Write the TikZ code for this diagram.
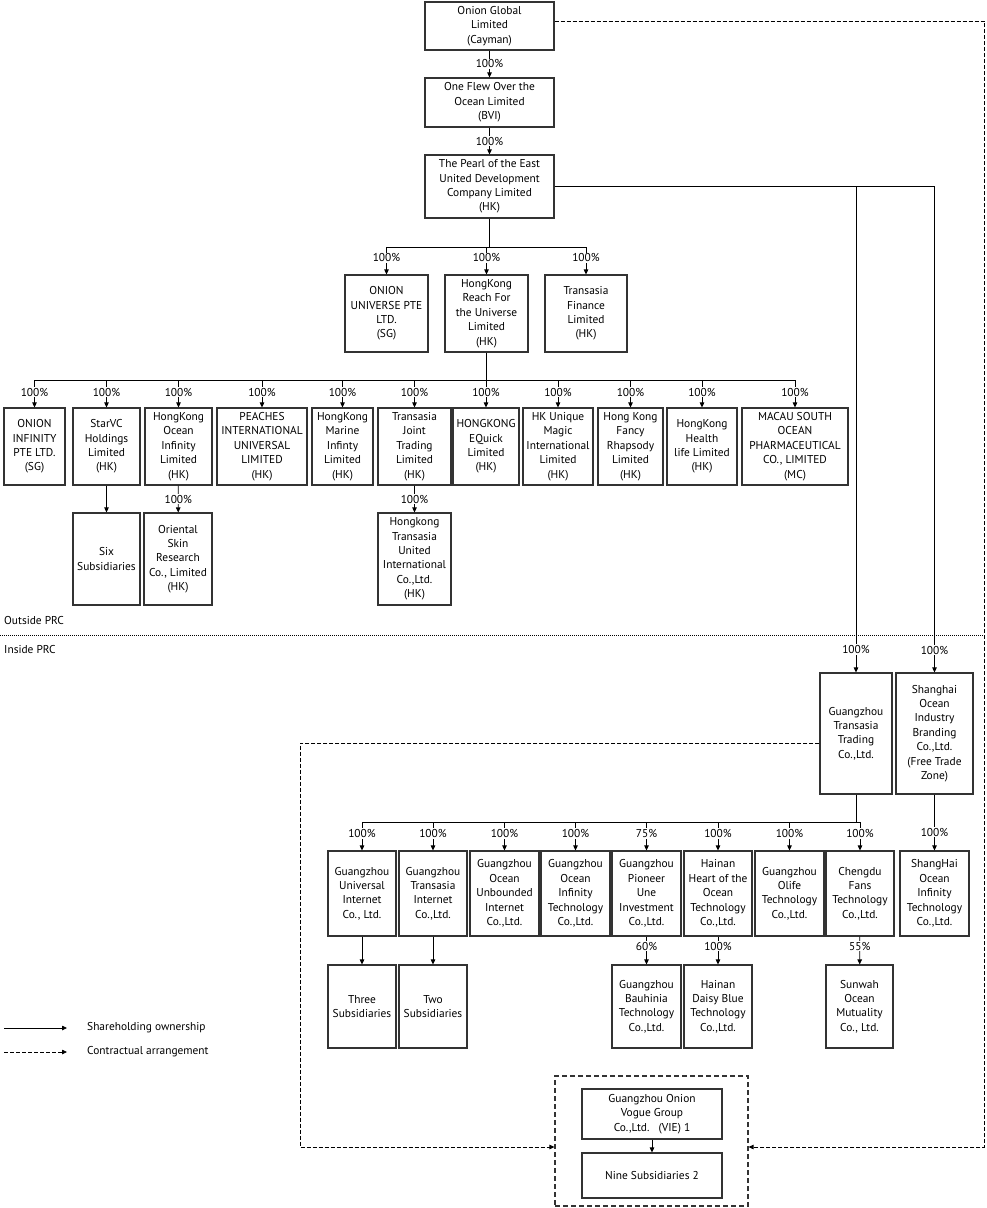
\documentclass[tikz,border=0pt]{standalone}
\usepackage{fontspec}
\setmainfont{PT Sans}
\usepackage{tikz}
\usetikzlibrary{arrows.meta, positioning}

\begin{document}
\begin{tikzpicture}[x=1pt, y=-1pt, >={Triangle[length=5pt,width=4.5pt]},
    font=\fontsize{11.4}{14.4}\selectfont,
    ent/.style={draw=black!80, line width=1.1pt, align=center, inner sep=1pt},
    pct/.style={fill=white, inner sep=1pt},
    own/.style={->, line width=0.8pt},
    ctr/.style={->, line width=0.8pt, dash pattern=on 4pt off 2pt}]
    \useasboundingbox (0,0) rectangle (986,1208);
    % Offshore holding chain
    \node[ent, minimum width=129pt, minimum height=48pt] (onion) at (489.5,26) {Onion Global\\Limited\\(Cayman)};
    \node[ent, minimum width=129pt, minimum height=49pt] (flew) at (489.5,102.5) {One Flew Over the\\Ocean Limited\\(BVI)};
    \node[ent, minimum width=129pt, minimum height=63pt] (pearl) at (489.5,186.5) {The Pearl of the East\\United Development\\Company Limited\\(HK)};
    \draw[own] (onion) -- node[pct]{100\%} (flew);
    \draw[own] (flew) -- node[pct]{100\%} (pearl);
    % Second level
    \node[ent, minimum width=83pt, minimum height=77pt] (ouni) at (386.5,313.5) {ONION\\UNIVERSE PTE\\LTD.\\(SG)};
    \node[ent, minimum width=83pt, minimum height=77pt] (reach) at (486.5,313.5) {HongKong\\Reach For\\the Universe\\Limited\\(HK)};
    \node[ent, minimum width=82pt, minimum height=77pt] (tfin) at (586,313.5) {Transasia\\Finance\\Limited\\(HK)};
    \coordinate (b2) at (0,247);
    \draw[line width=0.8pt] (pearl.south) -- (pearl.south |- b2);
    \draw[line width=0.8pt] (ouni.north |- b2) -- (tfin.north |- b2);
    \foreach \c in {ouni,reach,tfin}
      \draw[own] (\c.north |- b2) -- node[pct, pos=0.4]{100\%} (\c.north);
    % Third level
    \node[ent, minimum width=61pt, minimum height=77pt] (oinf) at (34.5,446.5) {ONION\\INFINITY\\PTE LTD.\\(SG)};
    \node[ent, minimum width=67pt, minimum height=77pt] (starvc) at (106.5,446.5) {StarVC\\Holdings\\Limited\\(HK)};
    \node[ent, minimum width=67pt, minimum height=77pt] (hkoi) at (178.5,446.5) {HongKong\\Ocean\\Infinity\\Limited\\(HK)};
    \node[ent, minimum width=90pt, minimum height=77pt] (peach) at (262,446.5) {PEACHES\\INTERNATIONAL\\UNIVERSAL\\LIMITED\\(HK)};
    \node[ent, minimum width=61pt, minimum height=77pt] (marine) at (342.5,446.5) {HongKong\\Marine\\Infinty\\Limited\\(HK)};
    \node[ent, minimum width=73pt, minimum height=77pt] (tjt) at (414.5,446.5) {Transasia\\Joint\\Trading\\Limited\\(HK)};
    \node[ent, minimum width=66pt, minimum height=77pt] (equick) at (486,446.5) {HONGKONG\\EQuick\\Limited\\(HK)};
    \node[ent, minimum width=70pt, minimum height=77pt] (unique) at (558,446.5) {HK Unique\\Magic\\International\\Limited\\(HK)};
    \node[ent, minimum width=65pt, minimum height=77pt] (fancy) at (630.5,446.5) {Hong Kong\\Fancy\\Rhapsody\\Limited\\(HK)};
    \node[ent, minimum width=70pt, minimum height=77pt] (health) at (702,446.5) {HongKong\\Health\\life Limited\\(HK)};
    \node[ent, minimum width=106pt, minimum height=77pt] (macau) at (795,446.5) {MACAU SOUTH\\OCEAN\\PHARMACEUTICAL\\CO., LIMITED\\(MC)};
    \coordinate (b3) at (0,380);
    \draw[line width=0.8pt] (reach.south) -- (reach.south |- b3);
    \draw[line width=0.8pt] (oinf.north |- b3) -- (macau.north |- b3);
    \foreach \c in {oinf,starvc,hkoi,peach,marine,tjt,equick,unique,fancy,health,macau}
      \draw[own] (\c.north |- b3) -- node[pct, pos=0.45]{100\%} (\c.north);
    % Fourth level
    \node[ent, minimum width=67pt, minimum height=92pt] (six) at (106.5,559) {Six\\Subsidiaries};
    \node[ent, minimum width=68pt, minimum height=92pt] (orient) at (178,559) {Oriental\\Skin\\Research\\Co., Limited\\(HK)};
    \node[ent, minimum width=73pt, minimum height=92pt] (hktu) at (414.5,559) {Hongkong\\Transasia\\United\\International\\Co.,Ltd.\\(HK)};
    \draw[own] (starvc) -- (six);
    \draw[own] (hkoi) -- node[pct]{100\%} (orient);
    \draw[own] (tjt) -- node[pct]{100\%} (hktu);
    % PRC border
    \draw[line width=0.6pt, dash pattern=on 1pt off 1pt] (0,635.5) -- (986,635.5);
    \node[right, inner sep=0pt] (outside) at (4,621) {Outside PRC};
    \node[right, inner sep=0pt] (inside) at (4,650) {Inside PRC};
    % Onshore subsidiaries
    \node[ent, minimum width=72pt, minimum height=121pt] (gtt) at (856,733.5) {Guangzhou\\Transasia\\Trading\\Co.,Ltd.};
    \node[ent, minimum width=77pt, minimum height=121pt] (shob) at (934.5,733.5) {Shanghai\\Ocean\\Industry\\Branding\\Co.,Ltd.\\(Free Trade\\Zone)};
    \draw[own] (pearl.east) -| node[pct, pos=0.977]{100\%} (shob.north);
    \draw[own] (pearl.east -| gtt.north) -- node[pct, pos=0.953]{100\%} (gtt.north);
    \node[ent, minimum width=68pt, minimum height=85pt] (gui) at (362,893.5) {Guangzhou\\Universal\\Internet\\Co., Ltd.};
    \node[ent, minimum width=68pt, minimum height=85pt] (gti) at (433,893.5) {Guangzhou\\Transasia\\Internet\\Co.,Ltd.};
    \node[ent, minimum width=69pt, minimum height=85pt] (gou) at (504.5,893.5) {Guangzhou\\Ocean\\Unbounded\\Internet\\Co.,Ltd.};
    \node[ent, minimum width=69pt, minimum height=85pt] (goi) at (575.5,893.5) {Guangzhou\\Ocean\\Infinity\\Technology\\Co.,Ltd.};
    \node[ent, minimum width=69pt, minimum height=85pt] (gpu) at (646.5,893.5) {Guangzhou\\Pioneer\\Une\\Investment\\Co.,Ltd.};
    \node[ent, minimum width=68pt, minimum height=85pt] (hho) at (718,893.5) {Hainan\\Heart of the\\Ocean\\Technology\\Co.,Ltd.};
    \node[ent, minimum width=69pt, minimum height=85pt] (gol) at (789.5,893.5) {Guangzhou\\Olife\\Technology\\Co.,Ltd.};
    \node[ent, minimum width=68pt, minimum height=85pt] (cdf) at (860,893.5) {Chengdu\\Fans\\Technology\\Co.,Ltd.};
    \node[ent, minimum width=69pt, minimum height=85pt] (shoi) at (934.5,893.5) {ShangHai\\Ocean\\Infinity\\Technology\\Co.,Ltd.};
    \coordinate (b5) at (0,822);
    \draw[line width=0.8pt] (gtt.south) -- (gtt.south |- b5);
    \draw[line width=0.8pt] (gui.north |- b5) -- (cdf.north |- b5);
    \foreach \c/\p in {gui/100,gti/100,gou/100,goi/100,gpu/75,hho/100,gol/100,cdf/100}
      \draw[own] (\c.north |- b5) -- node[pct, pos=0.4]{\p\%} (\c.north);
    \draw[own] (shob) -- node[pct, pos=0.67]{100\%} (shoi);
    % Sixth level
    \node[ent, minimum width=68pt, minimum height=83pt] (three) at (362,1006.5) {Three\\Subsidiaries};
    \node[ent, minimum width=68pt, minimum height=83pt] (two) at (433,1006.5) {Two\\Subsidiaries};
    \node[ent, minimum width=69pt, minimum height=83pt] (bauh) at (646.5,1006.5) {Guangzhou\\Bauhinia\\Technology\\Co.,Ltd.};
    \node[ent, minimum width=68pt, minimum height=83pt] (daisy) at (718,1006.5) {Hainan\\Daisy Blue\\Technology\\Co.,Ltd.};
    \node[ent, minimum width=67pt, minimum height=83pt] (sunwah) at (859.5,1006.5) {Sunwah\\Ocean\\Mutuality\\Co., Ltd.};
    \draw[own] (gui) -- (three);
    \draw[own] (gti) -- (two);
    \draw[own] (gpu) -- node[pct, pos=0.35]{60\%} (bauh);
    \draw[own] (hho) -- node[pct, pos=0.35]{100\%} (daisy);
    \draw[own] (cdf) -- node[pct, pos=0.35]{55\%} (sunwah);
    % VIE
    \node[draw=black!80, line width=1.1pt, dash pattern=on 5pt off 3pt, minimum width=193pt, minimum height=130pt] (viegrp) at (651.5,1141) {};
    \node[ent, minimum width=140pt, minimum height=50pt] (vie) at (652,1114) {Guangzhou Onion\\Vogue Group\\Co.,Ltd.\ \ \ (VIE) 1};
    \node[ent, minimum width=140pt, minimum height=45pt] (nine) at (652,1175.5) {Nine Subsidiaries 2};
    \draw[own] (vie) -- (nine);
    \coordinate (cr) at (984.5,1147);
    \coordinate (cl) at (300,1147);
    \draw[ctr] ([yshift=5pt]onion.east) -| (cr) -- (viegrp.east |- cr);
    \draw[ctr] ([yshift=-9.5pt]gtt.west) -| (cl) -- (viegrp.west |- cl);
    % Legend
    \coordinate (l1a) at (4,1028);
    \coordinate (l1b) at (67,1028);
    \coordinate (l2a) at (4,1052);
    \coordinate (l2b) at (67,1052);
    \draw[own] (l1a) -- (l1b);
    \draw[ctr] (l2a) -- (l2b);
    \node[right=20pt of l1b, inner sep=0pt] (lown) {Shareholding ownership};
    \node[right=20pt of l2b, inner sep=0pt] (lctr) {Contractual arrangement};
\end{tikzpicture}
\end{document}
